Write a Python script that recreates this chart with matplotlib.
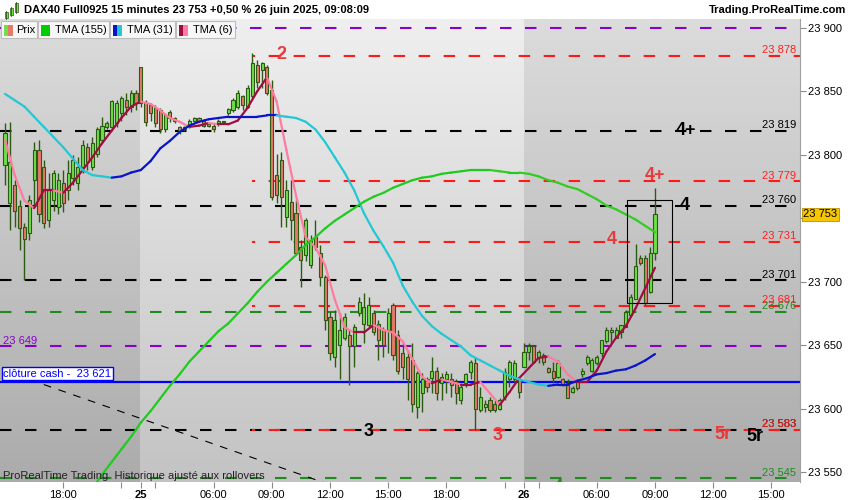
import matplotlib
matplotlib.use("Agg")
import matplotlib.pyplot as plt
import matplotlib.colors as mcolors
import numpy as np
from matplotlib.patches import Rectangle
from matplotlib.collections import LineCollection
from matplotlib.transforms import blended_transform_factory

plt.rcParams['font.family'] = ['Liberation Sans', 'DejaVu Sans']

# ---------- data (15 min bars, DAX40 Full0925) ----------
opens = [23792, 23762, 23776, 23760, 23743, 23738, 23780, 23804, 23790, 23749,
         23764, 23759, 23778, 23772, 23782, 23778, 23790, 23806, 23790, 23801,
         23812, 23822, 23822, 23825, 23833, 23843, 23838, 23849, 23869, 23841,
         23839, 23837, 23835, 23820, 23834, 23829, 23822, 23820, 23823, 23827,
         23829, 23827, 23824, 23823, 23824, 23826, 23833, 23835, 23838, 23846,
         23838, 23846, 23871, 23867, 23869, 23851, 23784, 23796, 23751, 23763,
         23754, 23727, 23721, 23713, 23735, 23723, 23704, 23672, 23641, 23650,
         23656, 23658, 23649, 23675, 23667, 23666, 23675, 23667, 23662, 23662,
         23682, 23658, 23644, 23641, 23638, 23601, 23612, 23623, 23624, 23630,
         23620, 23623, 23623, 23621, 23607, 23620, 23629, 23636, 23599, 23601,
         23607, 23604, 23600, 23609, 23623, 23623, 23623, 23633, 23645, 23649,
         23641, 23642, 23632, 23630, 23625, 23623, 23620, 23613, 23621, 23627,
         23636, 23630, 23636, 23644, 23653, 23660, 23656, 23660, 23664, 23674,
         23686, 23719, 23719, 23692, 23723]
highs = [23825, 23826, 23780, 23764, 23746, 23768, 23810, 23812, 23796, 23786,
         23788, 23786, 23788, 23796, 23800, 23798, 23812, 23809, 23814, 23822,
         23830, 23827, 23843, 23843, 23846, 23849, 23851, 23851, 23869, 23843,
         23841, 23839, 23837, 23833, 23835, 23830, 23823, 23823, 23828, 23830,
         23830, 23828, 23826, 23824, 23828, 23827, 23837, 23845, 23851, 23847,
         23855, 23880, 23875, 23873, 23871, 23859, 23801, 23802, 23780, 23780,
         23764, 23733, 23750, 23737, 23749, 23729, 23705, 23676, 23678, 23675,
         23675, 23662, 23667, 23688, 23691, 23688, 23678, 23670, 23664, 23679,
         23683, 23662, 23652, 23646, 23652, 23630, 23628, 23625, 23641, 23633,
         23628, 23630, 23628, 23623, 23620, 23628, 23638, 23641, 23617, 23607,
         23609, 23607, 23608, 23632, 23638, 23638, 23624, 23652, 23652, 23650,
         23646, 23644, 23633, 23637, 23638, 23624, 23623, 23618, 23623, 23632,
         23642, 23640, 23642, 23654, 23664, 23664, 23664, 23666, 23678, 23690,
         23730, 23721, 23721, 23727, 23774]
lows = [23776, 23741, 23743, 23725, 23701, 23733, 23759, 23747, 23742, 23743,
        23756, 23753, 23755, 23764, 23776, 23772, 23786, 23788, 23788, 23798,
        23809, 23820, 23820, 23822, 23827, 23831, 23834, 23835, 23838, 23823,
        23827, 23822, 23817, 23818, 23826, 23825, 23816, 23819, 23821, 23826,
        23827, 23822, 23822, 23818, 23823, 23824, 23831, 23834, 23836, 23835,
        23837, 23845, 23853, 23853, 23847, 23764, 23762, 23743, 23743, 23733,
        23721, 23696, 23716, 23711, 23725, 23697, 23662, 23638, 23633, 23623,
        23654, 23619, 23633, 23673, 23652, 23664, 23658, 23638, 23641, 23644,
        23638, 23627, 23623, 23607, 23597, 23593, 23597, 23613, 23612, 23607,
        23607, 23612, 23609, 23604, 23604, 23617, 23623, 23583, 23597, 23597,
        23597, 23597, 23599, 23607, 23617, 23621, 23608, 23633, 23638, 23636,
        23636, 23634, 23628, 23620, 23624, 23618, 23608, 23612, 23615, 23625,
        23634, 23629, 23634, 23641, 23652, 23652, 23656, 23656, 23664, 23674,
        23686, 23713, 23682, 23691, 23717]
closes = [23817, 23794, 23756, 23742, 23734, 23764, 23804, 23753, 23746, 23772,
          23786, 23780, 23762, 23786, 23796, 23790, 23808, 23794, 23809, 23820,
          23823, 23825, 23842, 23841, 23845, 23838, 23849, 23841, 23841, 23826,
          23833, 23825, 23820, 23831, 23829, 23827, 23819, 23822, 23827, 23829,
          23827, 23823, 23823, 23820, 23827, 23826, 23836, 23843, 23849, 23839,
          23853, 23872, 23857, 23872, 23849, 23767, 23768, 23767, 23772, 23749,
          23723, 23717, 23749, 23733, 23727, 23704, 23670, 23644, 23670, 23662,
          23672, 23649, 23664, 23684, 23680, 23682, 23660, 23654, 23650, 23675,
          23642, 23630, 23633, 23623, 23604, 23628, 23623, 23617, 23630, 23612,
          23625, 23627, 23619, 23612, 23617, 23627, 23637, 23600, 23609, 23604,
          23599, 23599, 23607, 23629, 23637, 23636, 23613, 23645, 23649, 23637,
          23645, 23637, 23629, 23624, 23636, 23619, 23608, 23616, 23616, 23630,
          23641, 23638, 23641, 23654, 23662, 23662, 23662, 23666, 23676, 23688,
          23712, 23715, 23683, 23723, 23753]

# moving averages read every 2nd bar
tma6 = [23812, 23784, 23764, 23758, 23772, 23772, 23770, 23778, 23788, 23798,
        23809, 23819, 23829, 23838, 23842, 23840, 23835, 23829, 23826, 23822,
        23823, 23825, 23824, 23824, 23827, 23837, 23850, 23861, 23842, 23804,
        23768, 23735, 23727, 23713, 23686, 23664, 23660, 23660, 23666, 23662,
        23660, 23653, 23639, 23625, 23620, 23623, 23621, 23619, 23619, 23621,
        23612, 23603, 23613, 23624, 23632, 23640, 23641, 23637, 23627, 23621,
        23621, 23630, 23645, 23656, 23665, 23679, 23695, 23711]
tma31 = [23848, 23843, 23838, 23830, 23822, 23814, 23806, 23797, 23788, 23784,
         23783, 23782, 23783, 23786, 23788, 23795, 23805, 23811, 23818, 23823,
         23826, 23828, 23829, 23830, 23830, 23830, 23830, 23831, 23831, 23830,
         23829, 23826, 23820, 23810, 23798, 23786, 23772, 23754, 23740, 23728,
         23715, 23697, 23684, 23673, 23665, 23659, 23654, 23649, 23642, 23638,
         23634, 23630, 23626, 23623, 23621, 23619, 23618, 23619, 23619, 23622,
         23624, 23627, 23628, 23630, 23631, 23634, 23638, 23643]
tma155 = [23516, 23526, 23537, 23548, 23558, 23568, 23578, 23589, 23598, 23608,
          23618, 23627, 23637, 23645, 23653, 23661, 23667, 23675, 23683, 23692,
          23700, 23707, 23714, 23721, 23729, 23735, 23742, 23748, 23753, 23758,
          23763, 23767, 23770, 23774, 23777, 23780, 23782, 23783, 23785, 23786,
          23787, 23788, 23788, 23788, 23787, 23786, 23786, 23785, 23783, 23780,
          23778, 23775, 23773, 23769, 23765, 23760, 23757, 23753, 23749, 23744,
          23739]
tma155_first_bar = 14

tick_bars = [12, 28, 43, 55, 67, 79, 91, 107, 122, 134, 146, 158]
tick_labels = ['18:00', '25', '06:00', '09:00', '12:00', '15:00', '18:00',
               '26', '06:00', '09:00', '12:00', '15:00']
minor_bars = [24, 31, 103, 110]
day_labels = ['25', '26']
session_breaks = [27.8, 107.0]
price_ticks = [23550, 23600, 23650, 23700, 23750, 23800, 23850, 23900]

black_levels = [23819, 23760, 23701, 23583]
red_levels = [23878, 23779, 23731, 23681, 23583]
green_levels = [23676, 23545]
purple_levels = [23900, 23649]
cash_close = 23621
last_price = 23753

trend_bars = [8, 70]
trend_prices = [23619, 23536]
box_bars = [128.2, 137.5]
box_prices = [23683, 23764]


def fmt(v):
    return f"{v:,}".replace(",", " ")


def band(ax, x0, x1, y0, y1, top, bottom):
    t = np.array(mcolors.to_rgb(top))
    b = np.array(mcolors.to_rgb(bottom))
    g = np.linspace(0, 1, 256)[:, None, None]
    img = t + (b - t) * g
    ax.imshow(img, extent=(x0, x1, y0, y1), aspect='auto', origin='upper',
              zorder=0, interpolation='bilinear')


def tma_line(ax, xs, ys, up_col, dn_col, lw=1.6):
    pts = np.column_stack([xs, ys])
    segs = np.stack([pts[:-1], pts[1:]], axis=1)
    cols = [up_col if b >= a else dn_col for a, b in zip(ys[:-1], ys[1:])]
    ax.add_collection(LineCollection(segs, colors=cols, linewidths=lw,
                                     zorder=4, capstyle='round'))


# ---------- figure ----------
fig = plt.figure(figsize=(8.5, 5), dpi=100, facecolor='white')
ax = fig.add_axes([0, 18 / 500, 800 / 850, 463 / 500])
xmin, xmax = -1.03, 163.9
ymin, ymax = 23542.2, 23907

dark_top, dark_bot = '#dcdcdc', '#ababab'
light_top, light_bot = '#efefef', '#c3c3c3'
band(ax, xmin, session_breaks[0], ymin, ymax, dark_top, dark_bot)
band(ax, session_breaks[0], session_breaks[1], ymin, ymax, light_top, light_bot)
band(ax, session_breaks[1], xmax, ymin, ymax, dark_top, dark_bot)

# levels
dash = (5.5, 6.5)
for y in purple_levels:
    ax.axhline(y, color='#8800cc', lw=1.5, linestyle=(0, dash), zorder=2)
for y in green_levels:
    ax.axhline(y, color='#1e8c1e', lw=1.5, linestyle=(0, dash), zorder=2)
for y in black_levels:
    ax.axhline(y, color='black', lw=1.5, linestyle=(0, dash), zorder=2)
for y in red_levels:
    ax.axhline(y, xmin=252 / 800, color='#ff1a1a', lw=1.5,
               linestyle=(4, dash), zorder=2.1)
ax.axhline(cash_close, color='#0000ff', lw=1.6, zorder=2.2)

ax.plot(trend_bars, trend_prices, color='black', lw=0.8, dashes=(7, 7), zorder=2.3)

# candles
wick = '#2b5a12'
for i in range(len(closes)):
    o, h, l, c = opens[i], highs[i], lows[i], closes[i]
    ax.vlines(i, l, h, color=wick, lw=1.0, zorder=3)
    ax.add_patch(Rectangle((i - 0.32, min(o, c)), 0.64, max(abs(c - o), 0.7),
                           fc='#6ee04a' if c >= o else '#e8796a',
                           ec=wick, lw=0.8, zorder=3.5))

# moving averages
tma_line(ax, np.arange(0, len(closes), 2), np.array(tma6), '#a00c42', '#ff7ba0')
tma_line(ax, np.arange(0, len(closes), 2), np.array(tma31), '#0a14c8', '#22c8d4')
tma_line(ax, np.arange(tma155_first_bar, len(closes), 2), np.array(tma155),
         '#1ecc1e', '#33cc22')

ax.add_patch(Rectangle((box_bars[0], box_prices[0]), box_bars[1] - box_bars[0],
                       box_prices[1] - box_prices[0], fill=False, ec='black',
                       lw=0.8, zorder=5))

# level labels on the right
tr = blended_transform_factory(ax.transAxes, ax.transData)
for y in black_levels:
    ax.text(0.995, y + 2.3, fmt(y), transform=tr, ha='right', va='baseline',
            fontsize=8, color='black', zorder=6)
for y in red_levels:
    ax.text(0.995, y + 2.3, fmt(y), transform=tr, ha='right', va='baseline',
            fontsize=8, color='#ff2020', zorder=6)
for y in green_levels:
    ax.text(0.995, y + 2.3, fmt(y), transform=tr, ha='right', va='baseline',
            fontsize=8, color='#1e8c1e', zorder=6)
ax.text(0.004, purple_levels[1] + 2.3, fmt(purple_levels[1]), transform=tr,
        ha='left', va='baseline', fontsize=8, color='#8800cc', zorder=6)
ax.text(0.004, cash_close + 2.6, 'clôture cash -  ' + fmt(cash_close), transform=tr,
        ha='left', va='bottom', fontsize=8, color='#0000ff', zorder=6,
        bbox=dict(boxstyle='square,pad=0.15', fc='white', ec='#0000ff', lw=1))

# wave labels
big = dict(fontsize=13, fontweight='bold', ha='center', va='center', zorder=6)
red_big = '#e83a3a'
ax.text(56.9, 23879, '2', color=red_big, **big)
ax.text(140.4, 23819, '4+', color='black', **big)
ax.text(134.0, 23784, '4+', color=red_big, **big)
ax.text(140.2, 23760, '4', color='black', **big)
ax.text(125.0, 23733, '4', color=red_big, **big)
ax.text(75.0, 23582, '3', color='black', **big)
ax.text(101.6, 23579, '3', color=red_big, **big)
ax.text(148.0, 23580, '5r', color=red_big, **big)
ax.text(154.6, 23578, '5r', color='black', **big)
ax.text(114.0, 23539, '4', color='#1e8c1e', fontsize=12, fontweight='bold',
        ha='center', va='center', zorder=6, clip_on=True)

# axes (the 23 750 label sits under the last-price tag)
ax.set_xlim(xmin, xmax)
ax.set_ylim(ymin, ymax)
ax.yaxis.tick_right()
ax.set_yticks(price_ticks)
ax.set_yticklabels(['' if abs(v - last_price) < 10 else fmt(v) for v in price_ticks])
ax.set_xticks(tick_bars)
ax.set_xticklabels(tick_labels)
ax.set_xticks(minor_bars, minor=True)
ax.tick_params(axis='y', direction='out', length=4, width=0.8, color='#8a8a8a',
               labelsize=8, pad=2)
ax.tick_params(axis='x', which='both', direction='out', length=4, width=0.8,
               color='#8a8a8a', labelsize=8, pad=1.5)
for lbl in ax.get_xticklabels():
    if lbl.get_text() in day_labels:
        lbl.set_fontweight('bold')
for s in ['top', 'left', 'bottom']:
    ax.spines[s].set_visible(False)
ax.spines['right'].set_color('#a0a0a0')

ax.text(1.004, last_price, fmt(last_price), transform=tr, ha='left', va='center',
        fontsize=8, color='black', zorder=7, clip_on=False,
        bbox=dict(boxstyle='square,pad=0.15', fc='#f7c600', ec='#b89400', lw=0.6))

# ---------- header, legend, footer (pixel overlay) ----------
ov = fig.add_axes([0, 0, 1, 1], zorder=10)
ov.set_xlim(0, 850)
ov.set_ylim(500, 0)
ov.axis('off')

for x, y0, y1 in [(5, 12, 18), (10, 8, 15), (15, 3, 12)]:
    ov.plot([x + 1.5, x + 1.5], [y0 - 1, y1 + 1], color=wick, lw=0.6)
    ov.add_patch(Rectangle((x, y0), 3, y1 - y0, fc='#6ee04a', ec=wick, lw=0.5))
ov.text(24, 10, 'DAX40 Full0925 15 minutes 23 753 +0,50 % 26 juin 2025, 09:08:09',
        fontsize=8, fontweight='bold', va='center', ha='left')
ov.text(846, 10, 'Trading.ProRealTime.com', fontsize=8, fontweight='bold',
        va='center', ha='right')

legend_items = [
    (1, 37, 'Prix', ['#6ee04a', '#e8796a'], 16),
    (38, 109, 'TMA (155)', ['#00cc00', '#00cc00'], 55),
    (110, 175, 'TMA (31)', ['#0a14c8', '#22c8d4'], 127),
    (176, 235, 'TMA (6)', ['#a00c42', '#ff7ba0'], 193),
]
for x0, x1, name, cols, tx in legend_items:
    ov.add_patch(Rectangle((x0, 21), x1 - x0, 17, fc='#f7f7f7', ec='#bdbdbd', lw=0.8))
    ov.add_patch(Rectangle((x0 + 3, 25), 4.5, 11, fc=cols[0], ec='none'))
    ov.add_patch(Rectangle((x0 + 7.5, 25), 4.5, 11, fc=cols[1], ec='none'))
    ov.text(tx, 30, name, fontsize=8, va='center', ha='left')

ov.text(3, 476, 'ProRealTime Trading  Historique ajusté aux rollovers', fontsize=8,
        va='center', ha='left', color='#222222')

fig.savefig('out.png', dpi=100)
